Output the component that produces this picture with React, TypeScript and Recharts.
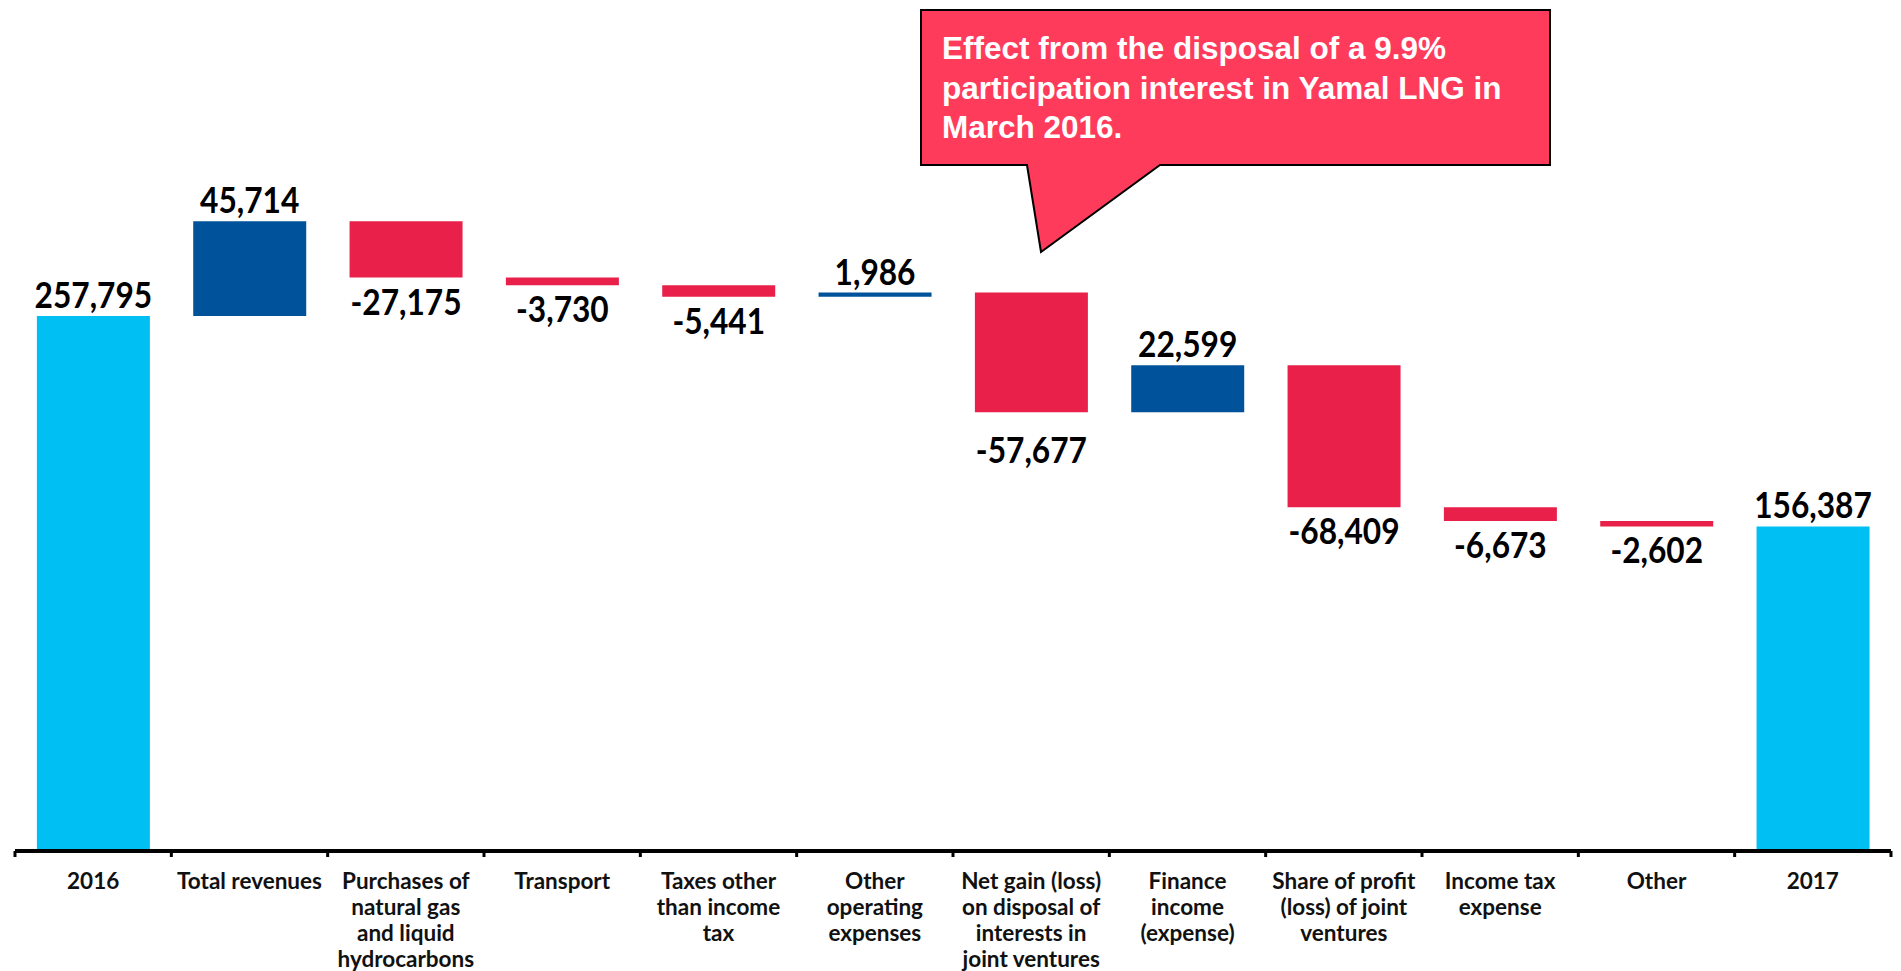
import React from 'react';
import { BarChart, Bar, XAxis, YAxis, Cell, LabelList } from 'recharts';

const categories = [
  '2016',
  'Total revenues',
  'Purchases of natural gas and liquid hydrocarbons',
  'Transport',
  'Taxes other than income tax',
  'Other operating expenses',
  'Net gain (loss) on disposal of interests in joint ventures',
  'Finance income (expense)',
  'Share of profit (loss) of joint ventures',
  'Income tax expense',
  'Other',
  '2017',
];

const tickLines: string[][] = [
  ['2016'],
  ['Total revenues'],
  ['Purchases of', 'natural gas', 'and liquid', 'hydrocarbons'],
  ['Transport'],
  ['Taxes other', 'than income', 'tax'],
  ['Other', 'operating', 'expenses'],
  ['Net gain (loss)', 'on disposal of', 'interests in', 'joint ventures'],
  ['Finance', 'income', '(expense)'],
  ['Share of profit', '(loss) of joint', 'ventures'],
  ['Income tax', 'expense'],
  ['Other'],
  ['2017'],
];

const values = [257795, 45714, -27175, -3730, -5441, 1986, -57677, 22599, -68409, -6673, -2602, 156387];
const kinds = ['total', 'delta', 'delta', 'delta', 'delta', 'delta', 'delta', 'delta', 'delta', 'delta', 'delta', 'total'];

const calloutLines = [
  'Effect from the disposal of a 9.9%',
  'participation interest in Yamal LNG in',
  'March 2016.',
];

const COLORS: Record<string, string> = { total: '#00BFF3', up: '#00529B', down: '#E8204A' };

const data = (() => {
  let running = 0;
  return categories.map((name, i) => {
    const v = values[i];
    if (kinds[i] === 'total') {
      running = v;
      return { name, base: 0, size: v, value: v, kind: 'total' };
    }
    const start = running;
    const end = running + v;
    running = end;
    return { name, base: Math.min(start, end), size: Math.abs(v), value: v, kind: v >= 0 ? 'up' : 'down' };
  });
})();

const W = 1901;
const H = 971;
const M = { top: 21, right: 10, left: 15, bottom: 0 };
const BAND = (W - M.left - M.right) / categories.length;
// extra downward shift (px) of a few value labels, as placed in the original
const LABEL_NUDGE: Record<number, number> = { 6: 14 };

const Tick = (props: any) => {
  const { x, y, payload, index } = props;
  const idx = typeof index === 'number' ? index : categories.indexOf(payload.value);
  const lines = tickLines[idx] || [String(payload.value)];
  return (
    <g>
      <line x1={x - BAND / 2} x2={x - BAND / 2} y1={y} y2={y + 6} stroke="#000" strokeWidth={3} />
      {idx === categories.length - 1 && (
        <line x1={x + BAND / 2} x2={x + BAND / 2} y1={y} y2={y + 6} stroke="#000" strokeWidth={3} />
      )}
      <text
        textAnchor="middle"
        fontFamily="Lato, 'Noto Sans', sans-serif"
        fontWeight={700}
        fontSize={22.5}
        fill="#111"
      >
        {lines.map((l, i) => (
          <tspan key={i} x={x} y={y + 38 + i * 26}>
            {l}
          </tspan>
        ))}
      </text>
    </g>
  );
};

const ValueLabel = (props: any) => {
  const x = Number(props.x);
  const y = Number(props.y);
  const w = Number(props.width);
  const h = Number(props.height);
  const v = Number(props.value);
  const idx = Number(props.index);
  const ty = v >= 0 ? y - 8 : y + h + 37 + (LABEL_NUDGE[idx] || 0);
  return (
    <text
      transform={`translate(${x + w / 2},${ty}) scale(0.88,1)`}
      x={0}
      y={0}
      textAnchor="middle"
      fontFamily="Lato, 'Noto Sans', sans-serif"
      fontWeight={700}
      fontSize={36}
      fill="#000"
    >
      {v.toLocaleString('en-US')}
    </text>
  );
};

export default function App() {
  return (
    <div style={{ position: 'absolute', left: 0, top: 0, width: W, height: H, background: '#fff' }}>
      <BarChart width={W} height={H} data={data} margin={M} barCategoryGap="14%">
        <XAxis
          dataKey="name"
          interval={0}
          height={120}
          tickLine={false}
          tickSize={0}
          tickMargin={0}
          axisLine={{ stroke: '#000', strokeWidth: 4 }}
          tick={<Tick />}
        />
        <YAxis hide domain={[0, 400000]} />
        <Bar dataKey="base" stackId="w" fill="transparent" isAnimationActive={false} />
        <Bar dataKey="size" stackId="w" isAnimationActive={false}>
          {data.map((d, i) => (
            <Cell key={i} fill={COLORS[d.kind]} />
          ))}
          <LabelList dataKey="value" content={<ValueLabel />} />
        </Bar>
      </BarChart>
      <svg
        width={W}
        height={H}
        style={{ position: 'absolute', left: 0, top: 0, pointerEvents: 'none' }}
      >
        <path
          d="M921,10 H1550 V165 H1160 L1041,252 L1027,165 H921 Z"
          fill="#FF3B5C"
          stroke="#000"
          strokeWidth={2}
        />
        <text
          fontFamily="'Liberation Sans', Arial, sans-serif"
          fontWeight={700}
          fontSize={31.5}
          fill="#fff"
        >
          {calloutLines.map((l, i) => (
            <tspan key={i} x={942} y={59 + i * 39.5}>
              {l}
            </tspan>
          ))}
        </text>
      </svg>
    </div>
  );
}
